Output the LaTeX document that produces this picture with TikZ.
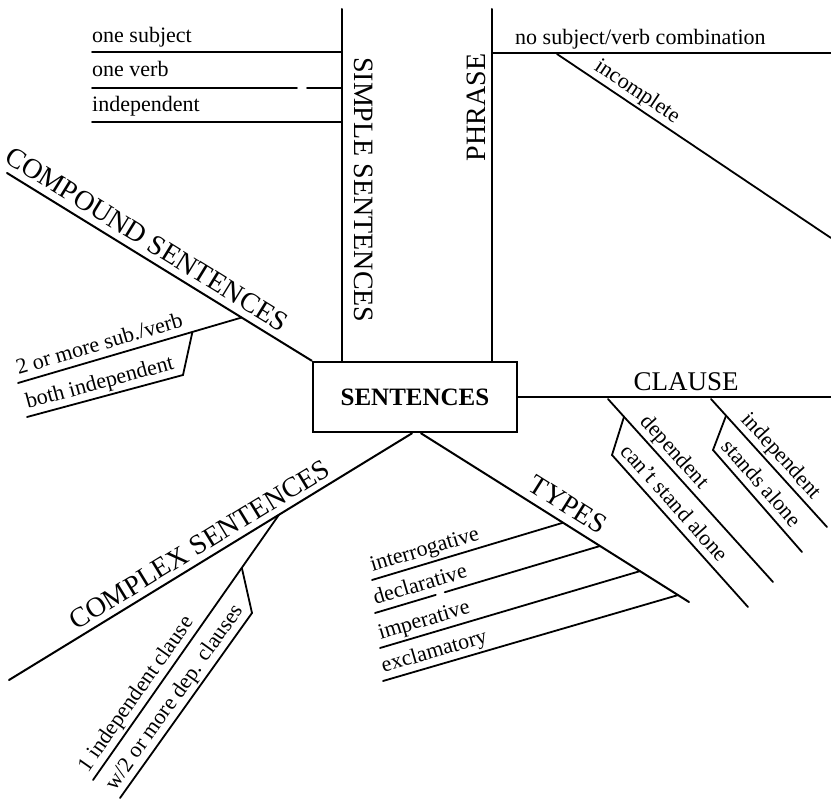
\documentclass[tikz,border=0pt]{standalone}
\usepackage{fontspec}
\setmainfont{Liberation Serif}
\usetikzlibrary{calc}

\begin{document}
\begin{tikzpicture}[x=1pt,y=1pt,
  branch/.style={line width=2pt, line cap=round},
  twig/.style={line width=1.8pt, line cap=round},
  bigtag/.style={font=\fontsize{28}{32}\selectfont, inner sep=0pt, outer sep=8pt,
                 text depth=0pt, sloped, anchor=south},
  smalltag/.style={font=\fontsize{22}{26}\selectfont, inner sep=0pt, outer sep=3pt,
                   text depth=4.8pt, sloped, anchor=south west},
  rowtag/.style={font=\fontsize{22}{26}\selectfont, inner sep=0pt, anchor=base west},
  rootbox/.style={draw, line width=2.6pt, minimum width=204pt, minimum height=70pt,
                  inner sep=0pt, font=\bfseries\fontsize{25}{30}\selectfont}
]
\useasboundingbox (0,0) rectangle (831,-800);

% central box
\node[rootbox] (root) at (415,-397) {SENTENCES};

% ---- simple sentences (vertical stem, rows to the left)
\coordinate (simTop) at (342,-9);
\draw[branch] (simTop) -- (simTop |- root.north)
  node[bigtag, pos=0.514, outer sep=12pt] (simple) {SIMPLE SENTENCES};
\coordinate (r1) at (92,-52);
\coordinate (r2) at (92,-88);
\coordinate (r3) at (92,-122);
\coordinate (r2gapA) at (297,-88);
\coordinate (r2gapB) at (307,-88);
\draw[twig] (r1) -- (r1 -| simTop);
\draw[twig] (r2) -- (r2gapA) (r2gapB) -- (r2 -| simTop);
\draw[twig] (r3) -- (r3 -| simTop);
\node[rowtag] (subj) at (92,-43) {one subject};
\node[rowtag] (verb) at (92,-77) {one verb};
\node[rowtag] (indp) at (92,-112) {independent};

% ---- phrase
\coordinate (phrTop) at (492,-9);
\draw[branch] (phrTop |- root.north) -- (phrTop)
  node[bigtag, pos=0.72, outer sep=7pt] (phrase) {PHRASE};
\coordinate (nsvA) at (492,-53);
\coordinate (nsvB) at (831,-53);
\draw[twig] (nsvA) -- (nsvB);
\node[rowtag] (nsv) at (515,-45) {no subject/verb combination};
\coordinate (incA) at (557,-54);
\coordinate (incB) at (831,-238);
\draw[twig] (incA) -- (incB)
  node[smalltag, pos=0.108] (incomplete) {incomplete};

% ---- compound sentences
\coordinate (cmpEnd) at (7,-173);
\draw[branch] (cmpEnd) -- (root.north west)
  node[bigtag, pos=0.43] (compound) {COMPOUND SENTENCES};
\coordinate (svA) at ($(cmpEnd)!0.77!(root.north west)$);
\coordinate (svB) at (18,-383);
\draw[twig] (svB) -- (svA)
  node[smalltag, pos=0] (sv) {2 or more sub./verb};
\coordinate (bi0) at ($(svB)!0.78!(svA)$);
\coordinate (bi1) at (183,-375);
\coordinate (bi2) at (27,-417);
\draw[twig] (bi0) -- (bi1) -- (bi2);
\path (bi2) -- (bi1) node[smalltag, pos=0] (both) {both independent};

% ---- complex sentences
\coordinate (cpxEnd) at (9,-680);
\coordinate (cpxRoot) at ($(root.south)+(-3,0)$);
\draw[branch] (cpxEnd) -- (cpxRoot)
  node[bigtag, pos=0.494, outer sep=7pt] (complex) {COMPLEX SENTENCES};
\coordinate (icA) at ($(cpxEnd)!0.67!(cpxRoot)$);
\coordinate (icB) at (93,-780);
\draw[twig] (icB) -- (icA)
  node[smalltag, pos=0] (oneind) {1 independent clause};
\coordinate (wd0) at ($(icB)!0.8!(icA)$);
\coordinate (wd1) at (252,-613);
\coordinate (wd2) at (120,-798);
\draw[twig] (wd0) -- (wd1) -- (wd2);
\path (wd2) -- (wd1) node[smalltag, pos=0] (wtwo) {w/2 or more dep. clauses};

% ---- types
\coordinate (typRoot) at ($(root.south)+(6,0)$);
\coordinate (typEnd) at (689,-602);
\draw[branch] (typRoot) -- (typEnd)
  node[bigtag, pos=0.512, outer sep=9pt] (types) {TYPES};
\coordinate (tyA1) at ($(typRoot)!0.53!(typEnd)$);
\coordinate (tyB1) at ($(typRoot)!0.668!(typEnd)$);
\coordinate (tyC1) at ($(typRoot)!0.817!(typEnd)$);
\coordinate (tyD1) at ($(typRoot)!0.959!(typEnd)$);
\coordinate (tyA0) at (372,-580);
\coordinate (tyB0) at (375,-613);
\coordinate (tyC0) at (380,-648);
\coordinate (tyD0) at (383,-681);
\draw[twig] (tyA0) -- (tyA1) node[smalltag, pos=0] (interr) {interrogative};
\path (tyB0) -- (tyB1) node[smalltag, pos=0] (declar) {declarative};
\draw[twig] (tyB0) -- ($(tyB0)!0.27!(tyB1)$) ($(tyB0)!0.31!(tyB1)$) -- (tyB1);
\draw[twig] (tyC0) -- (tyC1) node[smalltag, pos=0] (imper) {imperative};
\draw[twig] (tyD0) -- (tyD1) node[smalltag, pos=0] (exclam) {exclamatory};

% ---- clause
\coordinate (clsEnd) at (831,-397);
\draw[branch] (root.east) -- (clsEnd)
  node[bigtag, pos=0.537, outer sep=7pt, font=\fontsize{27}{31}\selectfont] (clause) {CLAUSE};
\coordinate (dpA) at (608,-399);
\coordinate (dpB) at (773,-582);
\draw[twig] (dpA) -- (dpB) node[smalltag, pos=0.145] (dependent) {dependent};
\coordinate (ca0) at ($(dpA)!0.097!(dpB)$);
\coordinate (ca1) at (612,-455);
\coordinate (ca2) at (748,-607);
\draw[twig] (ca0) -- (ca1) -- (ca2);
\path (ca1) -- (ca2) node[smalltag, pos=0] (cant) {can't stand alone};
\coordinate (inA) at (711,-399);
\coordinate (inB) at (827,-527);
\draw[twig] (inA) -- (inB) node[smalltag, pos=0.19] (indep) {independent};
\coordinate (sa0) at ($(inA)!0.13!(inB)$);
\coordinate (sa1) at (713,-450);
\coordinate (sa2) at (802,-552);
\draw[twig] (sa0) -- (sa1) -- (sa2);
\path (sa1) -- (sa2) node[smalltag, pos=0] (stands) {stands alone};
\end{tikzpicture}
\end{document}
